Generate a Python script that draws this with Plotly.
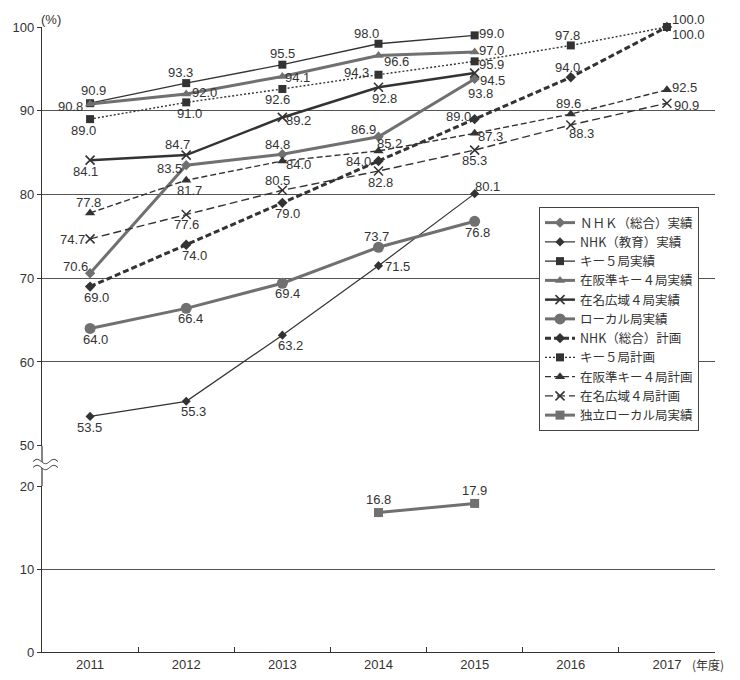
import numpy as np
import plotly.graph_objects as go

# ---------------- data ----------------
years = ["2011", "2012", "2013", "2014", "2015", "2016", "2017"]
years_actual = years[:5]
years_indep = ["2014", "2015"]

nhk_sogo_actual = [70.6, 83.5, 84.8, 86.9, 93.8]
nhk_kyoiku_actual = [53.5, 55.3, 63.2, 71.5, 80.1]
key5_actual = [90.9, 93.3, 95.5, 98.0, 99.0]
osaka4_actual = [90.8, 92.0, 94.1, 96.6, 97.0]
nagoya4_actual = [84.1, 84.7, 89.2, 92.8, 94.5]
local_actual = [64.0, 66.4, 69.4, 73.7, 76.8]
nhk_sogo_plan = [69.0, 74.0, 79.0, 84.0, 89.0, 94.0, 100.0]
key5_plan = [89.0, 91.0, 92.6, 94.3, 95.9, 97.8, 100.0]
osaka4_plan = [77.8, 81.7, 84.0, 85.2, 87.3, 89.6, 92.5]
nagoya4_plan = [74.7, 77.6, 80.5, 82.8, 85.3, 88.3, 90.9]
indep_local_actual = [16.8, 17.9]

names = ["ＮＨＫ（総合）実績", "NHK（教育）実績", "キー５局実績", "在阪準キー４局実績",
         "在名広域４局実績", "ローカル局実績", "NHK（総合）計画", "キー５局計画",
         "在阪準キー４局計画", "在名広域４局計画", "独立ローカル局実績"]

upper_ticks = [50, 60, 70, 80, 90, 100]
lower_ticks = [0, 10, 20]

# label offsets (dx, dy) in screen pixels, dy positive = down
off_nhk_sogo_actual = [(-15, -7), (-17, 3), (-5, -10), (-15, -7), (6, 15)]
off_nhk_kyoiku_actual = [(-1, 11), (7, 10), (8, 10), (19, 1), (13, -7)]
off_key5_actual = [(3, -13), (-6, -11), (0, -11), (-12, -10), (17, -2)]
off_osaka4_actual = [(-20, 2), (18, -1), (15, 1), (18, 6), (17, -2)]
off_nagoya4_actual = [(-5, 11), (-9, -11), (16, 3), (6, 11), (18, 7)]
off_local_actual = [(5, 11), (4, 10), (5, 10), (-2, -11), (3, 11)]
off_nhk_sogo_plan = [(6, 11), (8, 11), (5, 11), (-20, 1), (-16, -3), (-3, -10), (22, 7)]
off_key5_plan = [(-7, 11), (3, 11), (-5, 11), (-22, -2), (17, 3), (-3, -10), (22, -8)]
off_osaka4_plan = [(-2, -10), (3, 10), (16, 4), (11, -7), (16, 3), (-2, -11), (18, -2)]
off_nagoya4_plan = [(-18, 1), (0, 10), (-5, -10), (2, 11), (0, 10), (11, 9), (20, 2)]
off_indep_local_actual = [(0, -13), (0, -13)]

# ---------------- styling ----------------
GRAY = "#707070"
DARK = "#333333"
NUMFONT = dict(family="Liberation Sans, Arial, sans-serif", size=13, color="#333333")

W, H = 740, 680
BODY = 8  # default page margin of the html body
# target plot box in window pixels
LEFT, RIGHT, TOP, ZERO = 42, 715, 27, 652
ML, MR = LEFT - BODY, W - (RIGHT - BODY)
MT, MB = TOP - BODY, H - (ZERO - BODY)
PW, PH = W - ML - MR, H - MT - MB
low_dom = [0, (ZERO - 486) / PH]
up_dom = [(ZERO - 445.7) / PH, 1]


def px2paper(px, py):
    return (px - LEFT) / PW, (ZERO - py) / PH


fig = go.Figure()
annotations = []


def add(x, y, name, color, width, dash, symbol, msize, offs, yaxis="y", mline=None):
    marker = dict(symbol=symbol, size=msize, color=color)
    if mline:
        marker["line"] = dict(color=color, width=mline)
    fig.add_trace(go.Scatter(
        x=x, y=y, name=name, mode="lines+markers",
        line=dict(color=color, width=width, dash=dash),
        marker=marker, cliponaxis=False, yaxis=yaxis, xaxis="x",
    ))
    for xi, yi, (dx, dy) in zip(x, y, offs):
        annotations.append(dict(
            x=years.index(xi), y=yi, xref="x", yref=yaxis, text=f"{yi:.1f}",
            showarrow=False, xshift=dx, yshift=-dy, font=NUMFONT,
            xanchor="center", yanchor="middle"))


add(years_actual, nhk_sogo_actual, names[0], GRAY, 3, "solid", "diamond", 8, off_nhk_sogo_actual)
add(years_actual, nhk_kyoiku_actual, names[1], DARK, 1.2, "solid", "diamond", 7, off_nhk_kyoiku_actual)
add(years_actual, key5_actual, names[2], DARK, 1.3, "solid", "square", 8, off_key5_actual)
add(years_actual, osaka4_actual, names[3], GRAY, 3, "solid", "triangle-up", 9, off_osaka4_actual)
add(years_actual, nagoya4_actual, names[4], DARK, 2.5, "solid", "x-thin", 9, off_nagoya4_actual, mline=1.6)
add(years_actual, local_actual, names[5], GRAY, 3, "solid", "circle", 11, off_local_actual)
add(years, nhk_sogo_plan, names[6], DARK, 3, "6px,3px", "diamond", 8, off_nhk_sogo_plan)
add(years, key5_plan, names[7], DARK, 1.4, "2px,2px", "square", 8, off_key5_plan)
add(years, osaka4_plan, names[8], DARK, 1.4, "6px,3px", "triangle-up", 9, off_osaka4_plan)
add(years, nagoya4_plan, names[9], DARK, 1.4, "8px,4px", "x-thin", 9, off_nagoya4_plan, mline=1.5)
add(years_indep, indep_local_actual, names[10], GRAY, 3, "solid", "square", 9,
    off_indep_local_actual, yaxis="y2")

# ---------------- axes ----------------
grid = dict(showgrid=True, gridcolor="#555555", gridwidth=1)
fig.update_layout(
    width=W, height=H,
    margin=dict(l=ML, r=MR, t=MT, b=MB, pad=0, autoexpand=False),
    paper_bgcolor="white", plot_bgcolor="white",
    font=dict(family="Liberation Sans, Arial, sans-serif", size=13, color="#333"),
    xaxis=dict(type="category", categoryorder="array", categoryarray=years,
               range=[-0.5, 6.5], anchor="y2", tickson="boundaries",
               ticks="inside", ticklen=5, tickcolor=DARK, showline=True,
               linecolor=DARK, linewidth=1.2, showgrid=False, automargin=False,
               tickfont=dict(size=13, color="#333")),
    yaxis=dict(domain=up_dom, range=[50, 100], tickvals=upper_ticks, **grid,
               showline=True, linecolor=DARK, linewidth=1.2, ticks="outside",
               ticklen=4, tickcolor=DARK, zeroline=False, anchor="x", automargin=False,
               tickfont=dict(size=13, color="#333")),
    yaxis2=dict(domain=low_dom, range=[0, 20], tickvals=lower_ticks, **grid,
                showline=True, linecolor=DARK, linewidth=1.2, ticks="outside",
                ticklen=4, tickcolor=DARK, zeroline=False, anchor="x", automargin=False,
                tickfont=dict(size=13, color="#333")),
    legend=dict(x=px2paper(539, 0)[0], y=px2paper(0, 207)[1], xanchor="left",
                yanchor="top", bgcolor="white", bordercolor="#444", borderwidth=1,
                font=dict(family="Noto Sans CJK JP", size=12.5, color="#333"),
                itemwidth=30, tracegroupgap=0),
    showlegend=True,
)

# axis line through the break gap
_, yb = px2paper(LEFT, 486)
_, yt = px2paper(LEFT, 445.7)
fig.add_shape(type="line", xref="paper", yref="paper", x0=0, x1=0, y0=yb, y1=yt,
              line=dict(color=DARK, width=1.2))

# break symbol (two wavy strokes)
t = np.linspace(0, 1, 25)
xs = 33 + 25 * t
def wave(base):
    return base - 2.2 * np.sin(2 * np.pi * t * 1.5)
top_w, bot_w = wave(461.5), wave(467.5)
pts_top = [px2paper(a, b) for a, b in zip(xs, top_w)]
pts_bot = [px2paper(a, b) for a, b in zip(xs, bot_w)]
fill_path = "M " + " L ".join(f"{a:.5f},{b:.5f}" for a, b in pts_top + pts_bot[::-1]) + " Z"
fig.add_shape(type="path", xref="paper", yref="paper", path=fill_path,
              fillcolor="white", line=dict(width=0))
for pts in (pts_top, pts_bot):
    p = "M " + " L ".join(f"{a:.5f},{b:.5f}" for a, b in pts)
    fig.add_shape(type="path", xref="paper", yref="paper", path=p,
                  line=dict(color=DARK, width=1))

# unit labels
annotations.append(dict(text="(%)", xref="paper", yref="paper", x=px2paper(51, 0)[0],
                        y=px2paper(0, 19)[1], showarrow=False,
                        font=dict(size=13, color="#333"), xanchor="center", yanchor="middle"))
annotations.append(dict(text="(年度)", xref="paper", yref="paper", x=px2paper(708, 0)[0],
                        y=px2paper(0, 664)[1], showarrow=False,
                        font=dict(family="Noto Sans CJK JP", size=12, color="#333"),
                        xanchor="center", yanchor="middle"))
fig.update_layout(annotations=annotations)

fig.write_html("out.html")
